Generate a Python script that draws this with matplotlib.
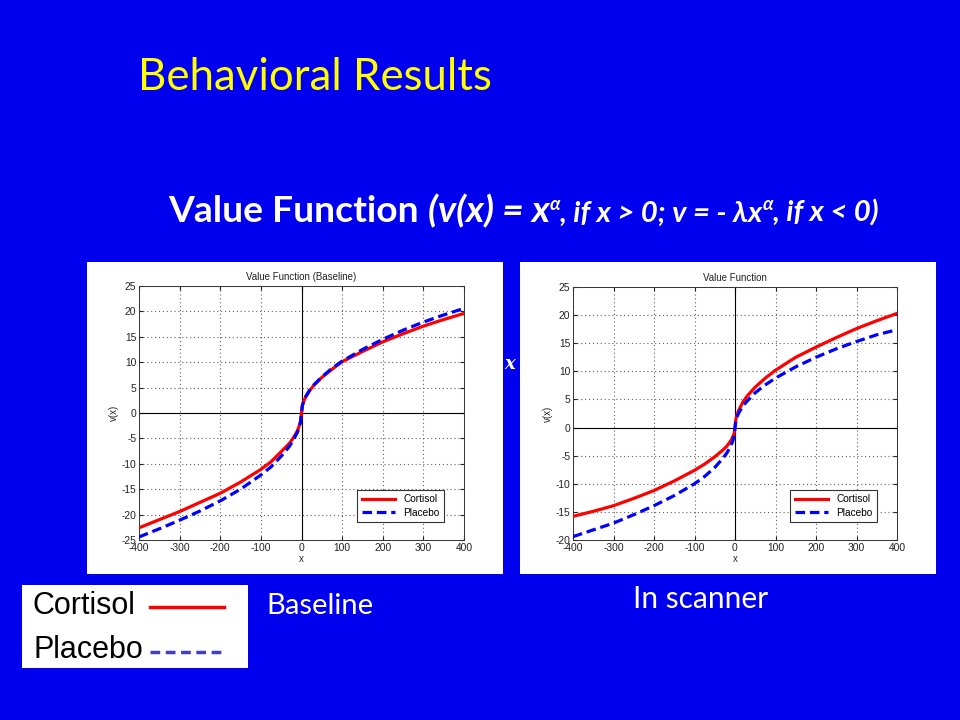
import numpy as np
import matplotlib
matplotlib.use("Agg")
import matplotlib.pyplot as plt
from matplotlib.patches import Rectangle
from matplotlib.lines import Line2D

plt.rcParams['axes.unicode_minus'] = False

# x grid
x_vals = [-400, -350, -300, -250, -200, -150, -100, -75, -50, -30, -20, -10, -5, -2, 0,
          2, 5, 10, 20, 30, 50, 75, 100, 150, 200, 250, 300, 350, 400]

# Baseline panel
base_cortisol = [-22.6, -21.0, -19.4, -17.6, -15.8, -13.6, -11.1, -9.6, -7.6, -6.0, -4.9, -3.5, -2.4, -1.5, 0,
                 1.4, 2.2, 3.1, 4.4, 5.4, 7.0, 8.6, 10.1, 12.1, 14.0, 15.6, 17.1, 18.4, 19.6]
base_placebo = [-24.4, -22.8, -21.1, -19.3, -17.3, -15.0, -12.2, -10.6, -8.5, -6.6, -5.3, -3.8, -2.7, -1.6, 0,
                1.4, 2.3, 3.2, 4.5, 5.5, 7.1, 8.8, 10.2, 12.5, 14.5, 16.3, 17.9, 19.3, 20.6]

# In-scanner panel
scan_cortisol = [-15.8, -14.9, -13.9, -12.6, -11.2, -9.5, -7.6, -6.5, -5.2, -4.0, -3.3, -2.3, -1.6, -1.0, 0,
                 1.4, 2.3, 3.2, 4.6, 5.6, 7.2, 8.8, 10.2, 12.5, 14.3, 16.0, 17.6, 19.0, 20.3]
scan_placebo = [-19.4, -18.2, -17.0, -15.5, -13.9, -12.1, -10.0, -8.7, -7.1, -5.5, -4.5, -3.2, -2.3, -1.4, 0,
                1.2, 1.9, 2.7, 3.9, 4.7, 6.2, 7.6, 8.8, 10.8, 12.5, 14.0, 15.3, 16.5, 17.4]

x_ticks = [-400, -300, -200, -100, 0, 100, 200, 300, 400]
base_yticks = [-25, -20, -15, -10, -5, 0, 5, 10, 15, 20, 25]
scan_yticks = [-20, -15, -10, -5, 0, 5, 10, 15, 20, 25]

BG = '#0000EE'
ui_font = ['Lato', 'DejaVu Sans']
plot_font = ['Liberation Sans', 'DejaVu Sans']

fig = plt.figure(figsize=(9.6, 7.2), dpi=100)
fig.patch.set_facecolor(BG)

# white panels behind the two plots
for x0 in (87, 520):
    fig.patches.append(Rectangle((x0 / 960, 1 - 574 / 720), 416 / 960, 312 / 720,
                                 transform=fig.transFigure, facecolor='white',
                                 edgecolor='none', zorder=-5))


def value_plot(ax, cort, plac, yticks, title):
    ax.plot(x_vals, cort, color='#FF0000', lw=2.3, label='Cortisol', zorder=3)
    ax.plot(x_vals, plac, color='#0000FF', lw=2.3, ls=(0, (3, 1.5)), label='Placebo', zorder=4)
    ax.axhline(0, color='black', lw=0.8, zorder=2)
    ax.axvline(0, color='black', lw=0.8, zorder=2)
    ax.set_xlim(-400, 400)
    ax.set_ylim(yticks[0], yticks[-1])
    ax.set_xticks(x_ticks)
    ax.set_yticks(yticks)
    ax.grid(True, ls=(0, (1, 2.5)), color='#606060', lw=0.8)
    ax.tick_params(direction='in', labelsize=7.4, length=3, top=True, right=True,
                   colors='#222222', pad=2)
    for lab in ax.get_xticklabels() + ax.get_yticklabels():
        lab.set_family(plot_font)
    for sp in ax.spines.values():
        sp.set_color('#333333')
        sp.set_linewidth(0.7)
    ax.set_title(title, fontsize=7, family=plot_font, color='#222222', pad=4)
    ax.set_xlabel('x', fontsize=7, family=plot_font, color='#222222', labelpad=1)
    ax.set_ylabel('v(x)', fontsize=7, family=plot_font, color='#222222', labelpad=2)
    leg = ax.legend(loc='lower right', bbox_to_anchor=(0.955, 0.05),
                    prop={'family': plot_font, 'size': 7.3}, fancybox=False,
                    edgecolor='#333333', framealpha=1, handlelength=3.3,
                    borderpad=0.45, labelspacing=0.35)
    leg.get_frame().set_linewidth(0.8)


ax1 = fig.add_axes([139 / 960, 1 - 540 / 720, 325 / 960, 254 / 720])
value_plot(ax1, base_cortisol, base_placebo, base_yticks, 'Value Function (Baseline)')

ax2 = fig.add_axes([573 / 960, 1 - 540 / 720, 324 / 960, 253 / 720])
value_plot(ax2, scan_cortisol, scan_placebo, scan_yticks, 'Value Function')

# slide title
fig.text(138 / 960, 1 - 77 / 720, 'Behavioral Results', color='#FFFF00', fontsize=31.5,
         family=ui_font, va='center', ha='left')

# subtitle built from runs of text
runs = [
    ('Value Function ', 26.8, 'normal', 0),
    ('(v(x) = x', 26.8, 'italic', 0),
    ('α', 13.5, 'italic', 12),
    (', if x > 0; v = - λx', 21.2, 'italic', 0),
    ('α', 13.5, 'italic', 12),
    (', if x < 0)', 21.2, 'italic', 0),
]
fig.canvas.draw()
renderer = fig.canvas.get_renderer()
xpos = 168
base_y = 1 - 222 / 720
for txt, size, style, rise in runs:
    t = fig.text(xpos / 960, base_y + rise / 720, txt, color='white', fontsize=size,
                 fontweight='bold', style=style, family=ui_font, va='baseline', ha='left')
    bb = t.get_window_extent(renderer)
    xpos += bb.width

# bit of hidden text peeking out between the panels
fig.text(510 / 960, 1 - 364 / 720, 'x', color='white', fontsize=13, family='DejaVu Serif',
         style='italic', fontweight='bold', va='center', ha='center')

# bottom legend box
fig.patches.append(Rectangle((22 / 960, 1 - 668 / 720), 226 / 960, 83 / 720,
                             transform=fig.transFigure, facecolor='white',
                             edgecolor='none', zorder=-5))
fig.text(33 / 960, 1 - 606 / 720, 'Cortisol', fontsize=22, family=plot_font,
         color='black', va='center', ha='left')
fig.text(33 / 960, 1 - 650 / 720, 'Placebo', fontsize=22, family=plot_font,
         color='black', va='center', ha='left')
fig.lines.append(Line2D([150 / 960, 224 / 960], [1 - 607 / 720, 1 - 607 / 720],
                        transform=fig.transFigure, color='#FF0000', lw=2.5))
fig.lines.append(Line2D([150 / 960, 224 / 960], [1 - 652 / 720, 1 - 652 / 720],
                        transform=fig.transFigure, color='#4040C0', lw=2.5,
                        ls=(0, (2.8, 1.6))))

fig.text(266 / 960, 1 - 606 / 720, 'Baseline', fontsize=21, family=ui_font,
         color='white', va='center', ha='left')
fig.text(633 / 960, 1 - 599 / 720, 'In scanner', fontsize=21.5, family=ui_font,
         color='white', va='center', ha='left')

fig.savefig('out.png', dpi=100, facecolor=BG)
